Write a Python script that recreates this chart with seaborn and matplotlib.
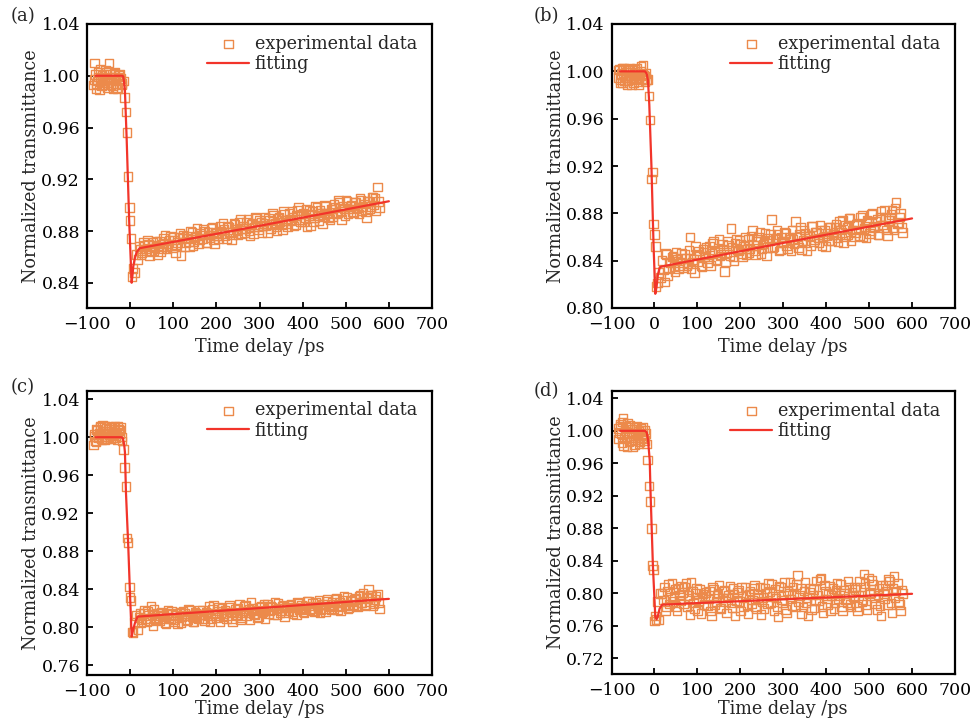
import numpy as np
import seaborn as sns
import matplotlib
matplotlib.use("Agg")
import matplotlib.pyplot as plt

# time delays (ps), first scan, same sampling in all four panels
delay_ps = [-85, -82, -79, -76, -73, -70, -67, -64, -61, -58, -55, -52, -49, -46, -43, -40,
            -37, -34, -31, -28, -25, -22, -19,
            -16, -13, -10, -7, -5, -2, 0, 2, 4, 7, 10, 14,
            18, 23, 28, 33, 38, 43, 48, 53, 58, 63,
            68, 73, 78, 83, 88, 93, 98, 103, 108, 113,
            118, 123, 128, 133, 138, 143, 148, 153, 158, 163,
            168, 173, 178, 183, 188, 193, 198, 203, 208, 213,
            218, 223, 228, 233, 238, 243, 248, 253, 258, 263,
            268, 273, 278, 283, 288, 293, 298, 303, 308, 313,
            318, 323, 328, 333, 338, 343, 348, 353, 358, 363,
            368, 373, 378, 383, 388, 393, 398, 403, 408, 413,
            418, 423, 428, 433, 438, 443, 448, 453, 458, 463,
            468, 473, 478, 483, 488, 493, 498, 503, 508, 513,
            518, 523, 528, 533, 538, 543, 548, 553, 558, 563,
            568, 573, 578]

# in-between delays (ps)
delay_ps_2 = [-83.5, -80.5, -77.5, -74.5, -71.5, -68.5, -65.5, -62.5, -59.5, -56.5, -53.5,
              -50.5, -47.5, -44.5, -41.5, -38.5, -35.5, -32.5, -29.5, -26.5, -23.5, -20.5,
              20.5, 25.5, 30.5, 35.5, 40.5, 45.5, 50.5, 55.5, 60.5, 65.5,
              70.5, 75.5, 80.5, 85.5, 90.5, 95.5, 100.5, 105.5, 110.5, 115.5,
              120.5, 125.5, 130.5, 135.5, 140.5, 145.5, 150.5, 155.5, 160.5, 165.5,
              170.5, 175.5, 180.5, 185.5, 190.5, 195.5, 200.5, 205.5, 210.5, 215.5,
              220.5, 225.5, 230.5, 235.5, 240.5, 245.5, 250.5, 255.5, 260.5, 265.5,
              270.5, 275.5, 280.5, 285.5, 290.5, 295.5, 300.5, 305.5, 310.5, 315.5,
              320.5, 325.5, 330.5, 335.5, 340.5, 345.5, 350.5, 355.5, 360.5, 365.5,
              370.5, 375.5, 380.5, 385.5, 390.5, 395.5, 400.5, 405.5, 410.5, 415.5,
              420.5, 425.5, 430.5, 435.5, 440.5, 445.5, 450.5, 455.5, 460.5, 465.5,
              470.5, 475.5, 480.5, 485.5, 490.5, 495.5, 500.5, 505.5, 510.5, 515.5,
              520.5, 525.5, 530.5, 535.5, 540.5, 545.5, 550.5, 555.5, 560.5, 565.5,
              570.5, 575.5]

# experimental data, panels (a)-(d)
trans_a = [0.993, 1.010, 0.990, 0.996, 0.999, 1.005, 0.992, 0.998, 1.001, 0.995, 1.003, 0.997,
           1.010, 0.993, 0.999, 0.990, 1.002, 0.994, 0.991, 0.999, 1.001, 0.998, 0.994,
           0.996, 0.983, 0.972, 0.956, 0.922, 0.898, 0.888, 0.874, 0.845, 0.851, 0.848, 0.862,
           0.858, 0.866, 0.863, 0.869, 0.865, 0.870, 0.864, 0.871, 0.867, 0.862,
           0.872, 0.866, 0.874, 0.868, 0.870, 0.876, 0.867, 0.873, 0.869, 0.875,
           0.861, 0.877, 0.871, 0.874, 0.868, 0.879, 0.872, 0.876, 0.870, 0.878,
           0.874, 0.880, 0.871, 0.877, 0.882, 0.873, 0.879, 0.876, 0.884, 0.878,
           0.881, 0.874, 0.883, 0.879, 0.877, 0.885, 0.880, 0.887, 0.878, 0.884,
           0.882, 0.889, 0.876, 0.886, 0.883, 0.890, 0.881, 0.887, 0.884, 0.891,
           0.879, 0.888, 0.885, 0.892, 0.883, 0.890, 0.887, 0.881, 0.893, 0.886,
           0.894, 0.888, 0.891, 0.885, 0.896, 0.889, 0.893, 0.887, 0.897, 0.892,
           0.884, 0.895, 0.890, 0.898, 0.888, 0.894, 0.891, 0.899, 0.893, 0.889,
           0.897, 0.901, 0.893, 0.904, 0.895, 0.899, 0.892, 0.903, 0.897, 0.900,
           0.894, 0.902, 0.898, 0.905, 0.896, 0.901, 0.890, 0.903, 0.899, 0.906,
           0.905, 0.914, 0.898]
trans_a_2 = [0.997, 1.001, 0.994, 1.003, 0.989, 0.996, 1.000, 0.993, 0.998, 1.004, 0.991,
             0.995, 1.001, 0.997, 0.992, 0.999, 1.003, 0.996, 0.990, 1.000, 0.997, 0.993,
             0.868, 0.862, 0.871, 0.866, 0.873, 0.861, 0.869, 0.865, 0.872, 0.868,
             0.864, 0.870, 0.877, 0.866, 0.873, 0.869, 0.875, 0.863, 0.871, 0.878,
             0.874, 0.868, 0.876, 0.872, 0.880, 0.869, 0.875, 0.882, 0.873, 0.877,
             0.881, 0.871, 0.879, 0.875, 0.883, 0.870, 0.878, 0.874, 0.880, 0.886,
             0.876, 0.884, 0.879, 0.873, 0.886, 0.881, 0.877, 0.889, 0.882, 0.879,
             0.887, 0.880, 0.885, 0.878, 0.891, 0.883, 0.888, 0.879, 0.886, 0.884,
             0.890, 0.882, 0.894, 0.886, 0.880, 0.891, 0.885, 0.895, 0.888, 0.883,
             0.889, 0.895, 0.884, 0.892, 0.898, 0.887, 0.894, 0.890, 0.883, 0.896,
             0.893, 0.887, 0.899, 0.892, 0.896, 0.886, 0.900, 0.894, 0.890, 0.897,
             0.891, 0.898, 0.894, 0.902, 0.889, 0.897, 0.904, 0.893, 0.899, 0.895,
             0.902, 0.897, 0.893, 0.904, 0.899, 0.895, 0.903, 0.897, 0.906, 0.900,
             0.896, 0.903]

trans_b = [0.995, 1.002, 0.990, 1.003, 0.997, 0.992, 1.001, 0.989, 0.996, 1.003, 0.993, 0.999,
           0.990, 1.002, 0.995, 0.998, 0.989, 0.996, 1.004, 0.994, 0.997, 0.991, 0.993,
           0.993, 0.979, 0.959, 0.909, 0.915, 0.871, 0.862, 0.852, 0.818, 0.821, 0.830, 0.826,
           0.840, 0.822, 0.845, 0.833, 0.838, 0.844, 0.831, 0.841, 0.836, 0.846,
           0.834, 0.842, 0.837, 0.860, 0.839, 0.830, 0.845, 0.848, 0.836, 0.850,
           0.843, 0.838, 0.852, 0.846, 0.856, 0.840, 0.849, 0.844, 0.854, 0.831,
           0.847, 0.853, 0.867, 0.843, 0.855, 0.849, 0.857, 0.846, 0.852, 0.845,
           0.858, 0.850, 0.866, 0.848, 0.856, 0.860, 0.846, 0.854, 0.863, 0.851,
           0.857, 0.875, 0.852, 0.859, 0.862, 0.849, 0.856, 0.864, 0.853, 0.860,
           0.848, 0.858, 0.873, 0.855, 0.862, 0.849, 0.866, 0.857, 0.861, 0.853,
           0.869, 0.858, 0.864, 0.855, 0.866, 0.860, 0.852, 0.863, 0.868, 0.857,
           0.862, 0.871, 0.856, 0.866, 0.874, 0.860, 0.868, 0.876, 0.857, 0.870,
           0.864, 0.872, 0.861, 0.878, 0.867, 0.859, 0.873, 0.865, 0.880, 0.869,
           0.875, 0.862, 0.882, 0.868, 0.877, 0.861, 0.874, 0.883, 0.866, 0.889,
           0.872, 0.880, 0.864]
trans_b_2 = [1.001, 0.993, 0.998, 0.990, 1.003, 0.995, 0.999, 0.992, 1.002, 0.996, 0.989,
             1.001, 0.994, 0.998, 1.003, 0.991, 0.997, 1.000, 0.993, 1.005, 0.996, 0.998,
             0.832, 0.846, 0.827, 0.839, 0.843, 0.835, 0.847, 0.833, 0.842, 0.838,
             0.845, 0.836, 0.849, 0.833, 0.841, 0.852, 0.839, 0.844, 0.835, 0.847,
             0.851, 0.842, 0.836, 0.855, 0.847, 0.841, 0.858, 0.845, 0.850, 0.839,
             0.856, 0.844, 0.851, 0.840, 0.858, 0.848, 0.854, 0.843, 0.860, 0.850,
             0.847, 0.861, 0.853, 0.845, 0.858, 0.864, 0.850, 0.856, 0.844, 0.859,
             0.862, 0.851, 0.858, 0.866, 0.848, 0.860, 0.855, 0.863, 0.850, 0.858,
             0.866, 0.854, 0.860, 0.851, 0.868, 0.857, 0.863, 0.848, 0.861, 0.869,
             0.856, 0.864, 0.859, 0.870, 0.853, 0.866, 0.861, 0.857, 0.868, 0.862,
             0.868, 0.859, 0.873, 0.864, 0.855, 0.870, 0.862, 0.876, 0.866, 0.860,
             0.871, 0.866, 0.877, 0.860, 0.869, 0.874, 0.863, 0.879, 0.868, 0.873,
             0.862, 0.877, 0.870, 0.883, 0.866, 0.874, 0.879, 0.868, 0.884, 0.871,
             0.877, 0.868]

trans_c = [0.992, 1.003, 0.995, 1.007, 1.000, 1.011, 0.998, 1.013, 1.004, 0.997, 1.009, 1.001,
           1.012, 0.998, 1.006, 1.003, 1.010, 0.999, 1.005, 1.012, 1.007, 1.010, 0.996,
           0.987, 0.968, 0.948, 0.894, 0.889, 0.842, 0.831, 0.828, 0.795, 0.794, 0.805, 0.812,
           0.797, 0.815, 0.808, 0.818, 0.806, 0.812, 0.822, 0.801, 0.809, 0.814,
           0.807, 0.816, 0.811, 0.804, 0.818, 0.809, 0.813, 0.806, 0.815, 0.810,
           0.805, 0.817, 0.812, 0.808, 0.818, 0.811, 0.806, 0.815, 0.809, 0.813,
           0.818, 0.807, 0.814, 0.822, 0.809, 0.823, 0.812, 0.817, 0.806, 0.820,
           0.814, 0.809, 0.821, 0.816, 0.806, 0.819, 0.812, 0.824, 0.810, 0.817,
           0.823, 0.815, 0.808, 0.820, 0.813, 0.818, 0.811, 0.822, 0.816, 0.809,
           0.824, 0.817, 0.821, 0.813, 0.819, 0.825, 0.815, 0.822, 0.811, 0.820,
           0.817, 0.824, 0.814, 0.821, 0.826, 0.818, 0.823, 0.815, 0.820, 0.827,
           0.819, 0.825, 0.816, 0.822, 0.828, 0.818, 0.824, 0.816, 0.829, 0.821,
           0.826, 0.819, 0.830, 0.823, 0.817, 0.828, 0.822, 0.831, 0.820, 0.827,
           0.824, 0.830, 0.821, 0.833, 0.826, 0.822, 0.831, 0.840, 0.834, 0.823,
           0.829, 0.835, 0.819]
trans_c_2 = [1.001, 0.996, 1.008, 0.999, 1.004, 1.010, 0.997, 1.006, 1.012, 1.001, 0.998,
             1.008, 1.003, 1.010, 0.999, 1.005, 1.011, 1.002, 0.997, 1.008, 1.004, 1.000,
             0.810, 0.805, 0.814, 0.809, 0.817, 0.807, 0.813, 0.819, 0.808, 0.812,
             0.815, 0.809, 0.805, 0.814, 0.810, 0.817, 0.808, 0.812, 0.804, 0.816,
             0.811, 0.814, 0.807, 0.819, 0.812, 0.806, 0.816, 0.810, 0.818, 0.813,
             0.809, 0.816, 0.812, 0.806, 0.819, 0.814, 0.810, 0.821, 0.815, 0.811,
             0.818, 0.812, 0.823, 0.809, 0.816, 0.813, 0.820, 0.808, 0.815, 0.822,
             0.812, 0.819, 0.826, 0.814, 0.817, 0.810, 0.821, 0.815, 0.824, 0.818,
             0.814, 0.822, 0.818, 0.826, 0.813, 0.820, 0.817, 0.823, 0.815, 0.821,
             0.823, 0.816, 0.820, 0.813, 0.825, 0.819, 0.816, 0.822, 0.827, 0.818,
             0.822, 0.817, 0.826, 0.820, 0.815, 0.824, 0.819, 0.827, 0.822, 0.818,
             0.824, 0.829, 0.818, 0.826, 0.821, 0.832, 0.824, 0.819, 0.828, 0.823,
             0.829, 0.823, 0.832, 0.826, 0.836, 0.824, 0.830, 0.827, 0.833, 0.825,
             0.832, 0.826]

trans_d = [1.003, 0.998, 1.008, 0.985, 1.015, 0.992, 1.005, 0.980, 0.996, 1.007, 0.988, 1.002,
           0.994, 0.983, 1.004, 0.991, 0.999, 0.986, 1.003, 0.995, 0.990, 1.001, 0.984,
           0.964, 0.932, 0.913, 0.880, 0.834, 0.829, 0.766, 0.772, 0.768, 0.790, 0.767, 0.800,
           0.800, 0.808, 0.783, 0.811, 0.795, 0.790, 0.805, 0.778, 0.798, 0.809,
           0.787, 0.812, 0.794, 0.774, 0.802, 0.781, 0.806, 0.791, 0.775, 0.799,
           0.796, 0.785, 0.803, 0.772, 0.805, 0.790, 0.799, 0.782, 0.794, 0.804,
           0.776, 0.797, 0.788, 0.806, 0.772, 0.801, 0.790, 0.807, 0.784, 0.798,
           0.775, 0.803, 0.792, 0.810, 0.781, 0.799, 0.774, 0.795, 0.806, 0.787,
           0.802, 0.811, 0.779, 0.794, 0.771, 0.807, 0.789, 0.813, 0.776, 0.800,
           0.793, 0.808, 0.784, 0.822, 0.797, 0.775, 0.803, 0.788, 0.772, 0.806,
           0.798, 0.782, 0.815, 0.791, 0.819, 0.776, 0.803, 0.786, 0.809, 0.797,
           0.781, 0.804, 0.793, 0.811, 0.779, 0.800, 0.789, 0.807, 0.783, 0.796,
           0.805, 0.778, 0.815, 0.790, 0.824, 0.786, 0.819, 0.801, 0.811, 0.794,
           0.780, 0.806, 0.772, 0.799, 0.810, 0.786, 0.815, 0.776, 0.821, 0.803,
           0.790, 0.778, 0.800]
trans_d_2 = [0.990, 1.006, 0.996, 1.011, 0.982, 1.000, 0.993, 1.009, 0.987, 1.004, 0.997,
             0.981, 1.002, 0.989, 1.006, 0.995, 0.984, 1.001, 0.992, 1.004, 0.988, 0.997,
             0.792, 0.779, 0.803, 0.787, 0.812, 0.796, 0.784, 0.806, 0.791, 0.801,
             0.808, 0.783, 0.797, 0.813, 0.788, 0.800, 0.779, 0.805, 0.795, 0.786,
             0.801, 0.793, 0.778, 0.808, 0.786, 0.797, 0.810, 0.781, 0.802, 0.790,
             0.794, 0.809, 0.782, 0.799, 0.791, 0.804, 0.778, 0.796, 0.808, 0.785,
             0.799, 0.787, 0.806, 0.783, 0.794, 0.808, 0.790, 0.781, 0.800, 0.812,
             0.789, 0.796, 0.805, 0.784, 0.809, 0.792, 0.798, 0.780, 0.803, 0.814,
             0.785, 0.799, 0.811, 0.790, 0.806, 0.783, 0.813, 0.795, 0.801, 0.780,
             0.805, 0.791, 0.798, 0.817, 0.784, 0.810, 0.793, 0.800, 0.778, 0.806,
             0.789, 0.812, 0.797, 0.783, 0.804, 0.792, 0.815, 0.786, 0.801, 0.808,
             0.784, 0.797, 0.808, 0.792, 0.812, 0.780, 0.799, 0.816, 0.805, 0.787,
             0.798, 0.785, 0.810, 0.793, 0.802, 0.817, 0.788, 0.806, 0.795, 0.812,
             0.786, 0.804]

# fitted curves
fit_x_a = [-80, -18, -16, -14, -12, -8, -2, 3.5, 5.5, 7.5, 11, 15, 22, 100, 300, 600]
fit_y_a = [1.0, 1.0, 0.9995, 0.995, 0.988, 0.951, 0.886, 0.840, 0.846, 0.853, 0.859, 0.8636,
           0.8667, 0.8716, 0.884, 0.903]
fit_x_b = [-80, -22, -18, -15, -12, -7, -2, 2, 5, 8, 12, 16, 100, 300, 600]
fit_y_b = [1.0, 1.0, 0.998, 0.992, 0.972, 0.920, 0.852, 0.812, 0.818, 0.828, 0.834, 0.835,
           0.8409, 0.855, 0.8757]
fit_x_c = [-80, -20, -17, -14, -12, -9.6, -4.3, -0.4, 3.6, 7, 11, 17, 100, 300, 600]
fit_y_c = [1.0, 1.0, 0.999, 0.993, 0.984, 0.941, 0.885, 0.836, 0.790, 0.797, 0.804, 0.811,
           0.8137, 0.820, 0.8297]
fit_x_d = [-80, -22, -18, -15, -11, -9, -6, -3.5, 2, 5, 8, 12, 18, 100, 300, 600]
fit_y_d = [1.0, 1.0, 0.998, 0.989, 0.964, 0.923, 0.874, 0.833, 0.771, 0.768, 0.772, 0.781,
           0.786, 0.788, 0.7926, 0.7994]

panel_tags = ["(a)", "(b)", "(c)", "(d)"]
y_ticks = [
    [0.84, 0.88, 0.92, 0.96, 1.00, 1.04],
    [0.80, 0.84, 0.88, 0.92, 0.96, 1.00, 1.04],
    [0.76, 0.80, 0.84, 0.88, 0.92, 0.96, 1.00, 1.04],
    [0.72, 0.76, 0.80, 0.84, 0.88, 0.92, 0.96, 1.00, 1.04],
]
y_limits = [(0.8205, 1.04), (0.80, 1.04), (0.7495, 1.049), (0.7007, 1.049)]
x_ticks = [-100, 0, 100, 200, 300, 400, 500, 600, 700]

sns.set_theme(style="ticks")
plt.rcParams["font.family"] = ["DejaVu Serif"]

square_color = "#EC8A4B"
line_color = "#F2342A"

fig = plt.figure(figsize=(9.75, 7.21), dpi=100)
# axes boxes measured in pixels: left, top, right, bottom
boxes = [(87, 24, 432, 308), (611.5, 24, 955, 308), (87, 390.7, 432, 675), (611.5, 391, 955, 674)]
tag_pos = [(23, 16), (546, 16), (23, 387), (546, 391)]
xlabel_y = [-0.105, -0.105, -0.088, -0.092]

all_trans = [(trans_a, trans_a_2), (trans_b, trans_b_2), (trans_c, trans_c_2), (trans_d, trans_d_2)]
all_fit = [(fit_x_a, fit_y_a), (fit_x_b, fit_y_b), (fit_x_c, fit_y_c), (fit_x_d, fit_y_d)]

for i in range(4):
    l, t, r, b = boxes[i]
    ax = fig.add_axes([l / 975, 1 - b / 721, (r - l) / 975, (b - t) / 721])
    xs = delay_ps + delay_ps_2
    ys = all_trans[i][0] + all_trans[i][1]
    sns.scatterplot(x=xs, y=ys, ax=ax, marker="s", s=38,
                    facecolors="none", edgecolor=square_color, linewidth=1.0,
                    label="experimental data", zorder=2)
    sns.lineplot(x=all_fit[i][0], y=all_fit[i][1], ax=ax, color=line_color,
                 linewidth=1.6, label="fitting", zorder=3, sort=False)
    ax.set_xlim(-100, 700)
    ax.set_ylim(*y_limits[i])
    ax.set_xticks(x_ticks)
    ax.set_yticks(y_ticks[i])
    ax.set_yticklabels([f"{v:.2f}" for v in y_ticks[i]])
    ax.tick_params(direction="in", length=4, width=1.3, labelsize=12.5, colors="black")
    ax.tick_params(axis="x", pad=6)
    ax.tick_params(axis="y", pad=5)
    for sp in ax.spines.values():
        sp.set_linewidth(1.6)
        sp.set_color("black")
    ax.set_xlabel("Time delay /ps", fontsize=12.7)
    ax.set_ylabel("Normalized transmittance", fontsize=12.7)
    ax.xaxis.set_label_coords(0.5, xlabel_y[i])
    ax.yaxis.set_label_coords(-0.136, 0.5)
    ax.legend(loc="upper right", bbox_to_anchor=(1.0, 1.015), frameon=False, fontsize=12.7,
              handlelength=2.4, handletextpad=0.3, labelspacing=0.12, borderaxespad=0.45)
    fig.text(tag_pos[i][0] / 975, 1 - tag_pos[i][1] / 721, panel_tags[i], fontsize=13,
             ha="center", va="center")

fig.savefig("out.png", dpi=100)
